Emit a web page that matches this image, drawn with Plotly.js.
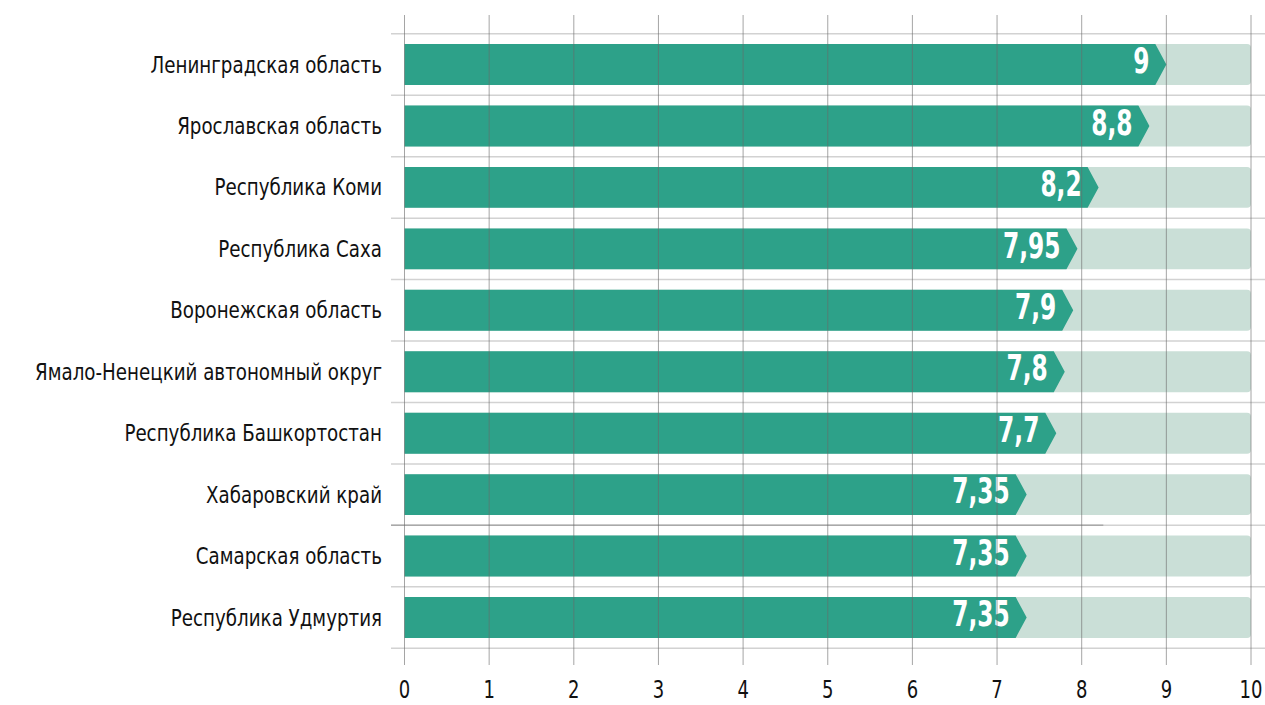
<!DOCTYPE html>
<html>
<head>
<meta charset="utf-8">
<script src="https://cdn.plot.ly/plotly-3.0.1.min.js"></script>
<style>
  html, body { margin: 0; padding: 0; background: #ffffff; }
  #chart { width: 1265px; height: 705px; }
</style>
</head>
<body>
<div id="chart"></div>
<script>
// ---- data ----
var regions = [
  "Ленинградская область",
  "Ярославская область",
  "Республика Коми",
  "Республика Саха",
  "Воронежская область",
  "Ямало-Ненецкий автономный округ",
  "Республика Башкортостан",
  "Хабаровский край",
  "Самарская область",
  "Республика Удмуртия"
];
var scores = [9, 8.8, 8.2, 7.95, 7.9, 7.8, 7.7, 7.35, 7.35, 7.35];
var maxScore = 10;
var xTicks = [0, 1, 2, 3, 4, 5, 6, 7, 8, 9, 10];

// ---- styling ----
var FONT = "'DejaVu Sans Condensed', 'DejaVu Sans', sans-serif";
var TEAL = "#2da189";
var LIGHT = "#cadfd7";
var HALF = 0.333;      // half bar thickness (category units)
var ARROW = 0.13;      // arrow head length (value units)
var LABEL_GAP = 0.2;   // gap between arrow tip and value label (value units)

var idx = regions.map(function (_, i) { return i; });

// background bars (full scale)
var bgTrace = {
  type: "bar",
  orientation: "h",
  y: idx,
  x: regions.map(function () { return maxScore; }),
  width: HALF * 2,
  marker: { color: LIGHT, line: { width: 0 } },
  hoverinfo: "skip",
  showlegend: false
};

// arrow-shaped value bars built from the scores
var px = [], py = [];
scores.forEach(function (v, i) {
  px.push(0, v - ARROW, v, v - ARROW, 0, 0, null);
  py.push(i - HALF, i - HALF, i, i + HALF, i + HALF, i - HALF, null);
});
var valTrace = {
  type: "scatter",
  mode: "lines",
  x: px,
  y: py,
  fill: "toself",
  fillcolor: TEAL,
  line: { width: 0, color: TEAL },
  hoverinfo: "skip",
  showlegend: false
};

// value labels
var labelTrace = {
  type: "scatter",
  mode: "text",
  x: scores.map(function (v) { return v - LABEL_GAP; }),
  y: idx,
  text: scores.map(function (v) { return String(v).replace(".", ","); }),
  textposition: "middle left",
  textfont: { family: FONT, size: 35, color: "#ffffff", weight: "bold" },
  hoverinfo: "skip",
  showlegend: false
};

// separators between rows and gridlines
var shapes = [];
for (var k = 0; k <= regions.length; k++) {
  shapes.push({
    type: "line", xref: "paper", yref: "y",
    x0: 0, x1: 1, y0: k - 0.5, y1: k - 0.5,
    line: { color: "#d2d2d2", width: 1.5 },
    layer: "below"
  });
}
// darker partial separator seen under "Хабаровский край"
shapes.push({
  type: "line", xref: "paper", yref: "y",
  x0: 0, x1: 0.815, y0: 7.5, y1: 7.5,
  line: { color: "#a9a9a9", width: 1.5 },
  layer: "below"
});
xTicks.forEach(function (t) {
  shapes.push({
    type: "line", xref: "x", yref: "paper",
    x0: t, x1: t, y0: 0, y1: 1,
    line: { color: "rgba(105,105,105,0.6)", width: 1 },
    layer: "above"
  });
});

var layout = {
  width: 1265,
  height: 705,
  margin: { l: 391, r: 0, t: 15, b: 40 },
  paper_bgcolor: "#ffffff",
  plot_bgcolor: "#ffffff",
  showlegend: false,
  barcornerradius: 4,
  xaxis: {
    range: [-0.1595, 10.1654],
    tickvals: xTicks,
    ticktext: xTicks.map(String),
    showgrid: false,
    zeroline: false,
    showline: false,
    ticks: "",
    ticklabelstandoff: 7,
    ticklabeloverflow: "allow",
    tickfont: { family: FONT, size: 25, color: "#111111" },
    fixedrange: true
  },
  yaxis: {
    range: [9.773, -0.806],
    tickvals: idx,
    ticktext: regions,
    showgrid: false,
    zeroline: false,
    showline: false,
    ticks: "",
    ticklabelstandoff: 8,
    tickfont: { family: FONT, size: 23, color: "#111111" },
    fixedrange: true
  },
  shapes: shapes
};

// narrow the glyphs of the installed condensed font towards the reference's
// extra-condensed type (the text stays real SVG text)
function squeeze(selector, factor) {
  document.querySelectorAll(selector).forEach(function (t) {
    var w = t.getComputedTextLength();
    if (w > 0) {
      t.setAttribute("textLength", (w * factor).toFixed(2));
      t.setAttribute("lengthAdjust", "spacingAndGlyphs");
    }
  });
}

Plotly.newPlot("chart", [bgTrace, valTrace, labelTrace], layout,
  { displayModeBar: false, staticPlot: true }).then(function () {
  // category labels: longest should span ~347 px
  var maxW = 0;
  document.querySelectorAll("#chart g.ytick text").forEach(function (t) {
    maxW = Math.max(maxW, t.getComputedTextLength());
  });
  if (maxW > 0) squeeze("#chart g.ytick text", 347 / maxW);
  squeeze("#chart g.xtick text", 0.8);
  squeeze("#chart g.textpoint text", 0.74);
});
</script>
</body>
</html>
